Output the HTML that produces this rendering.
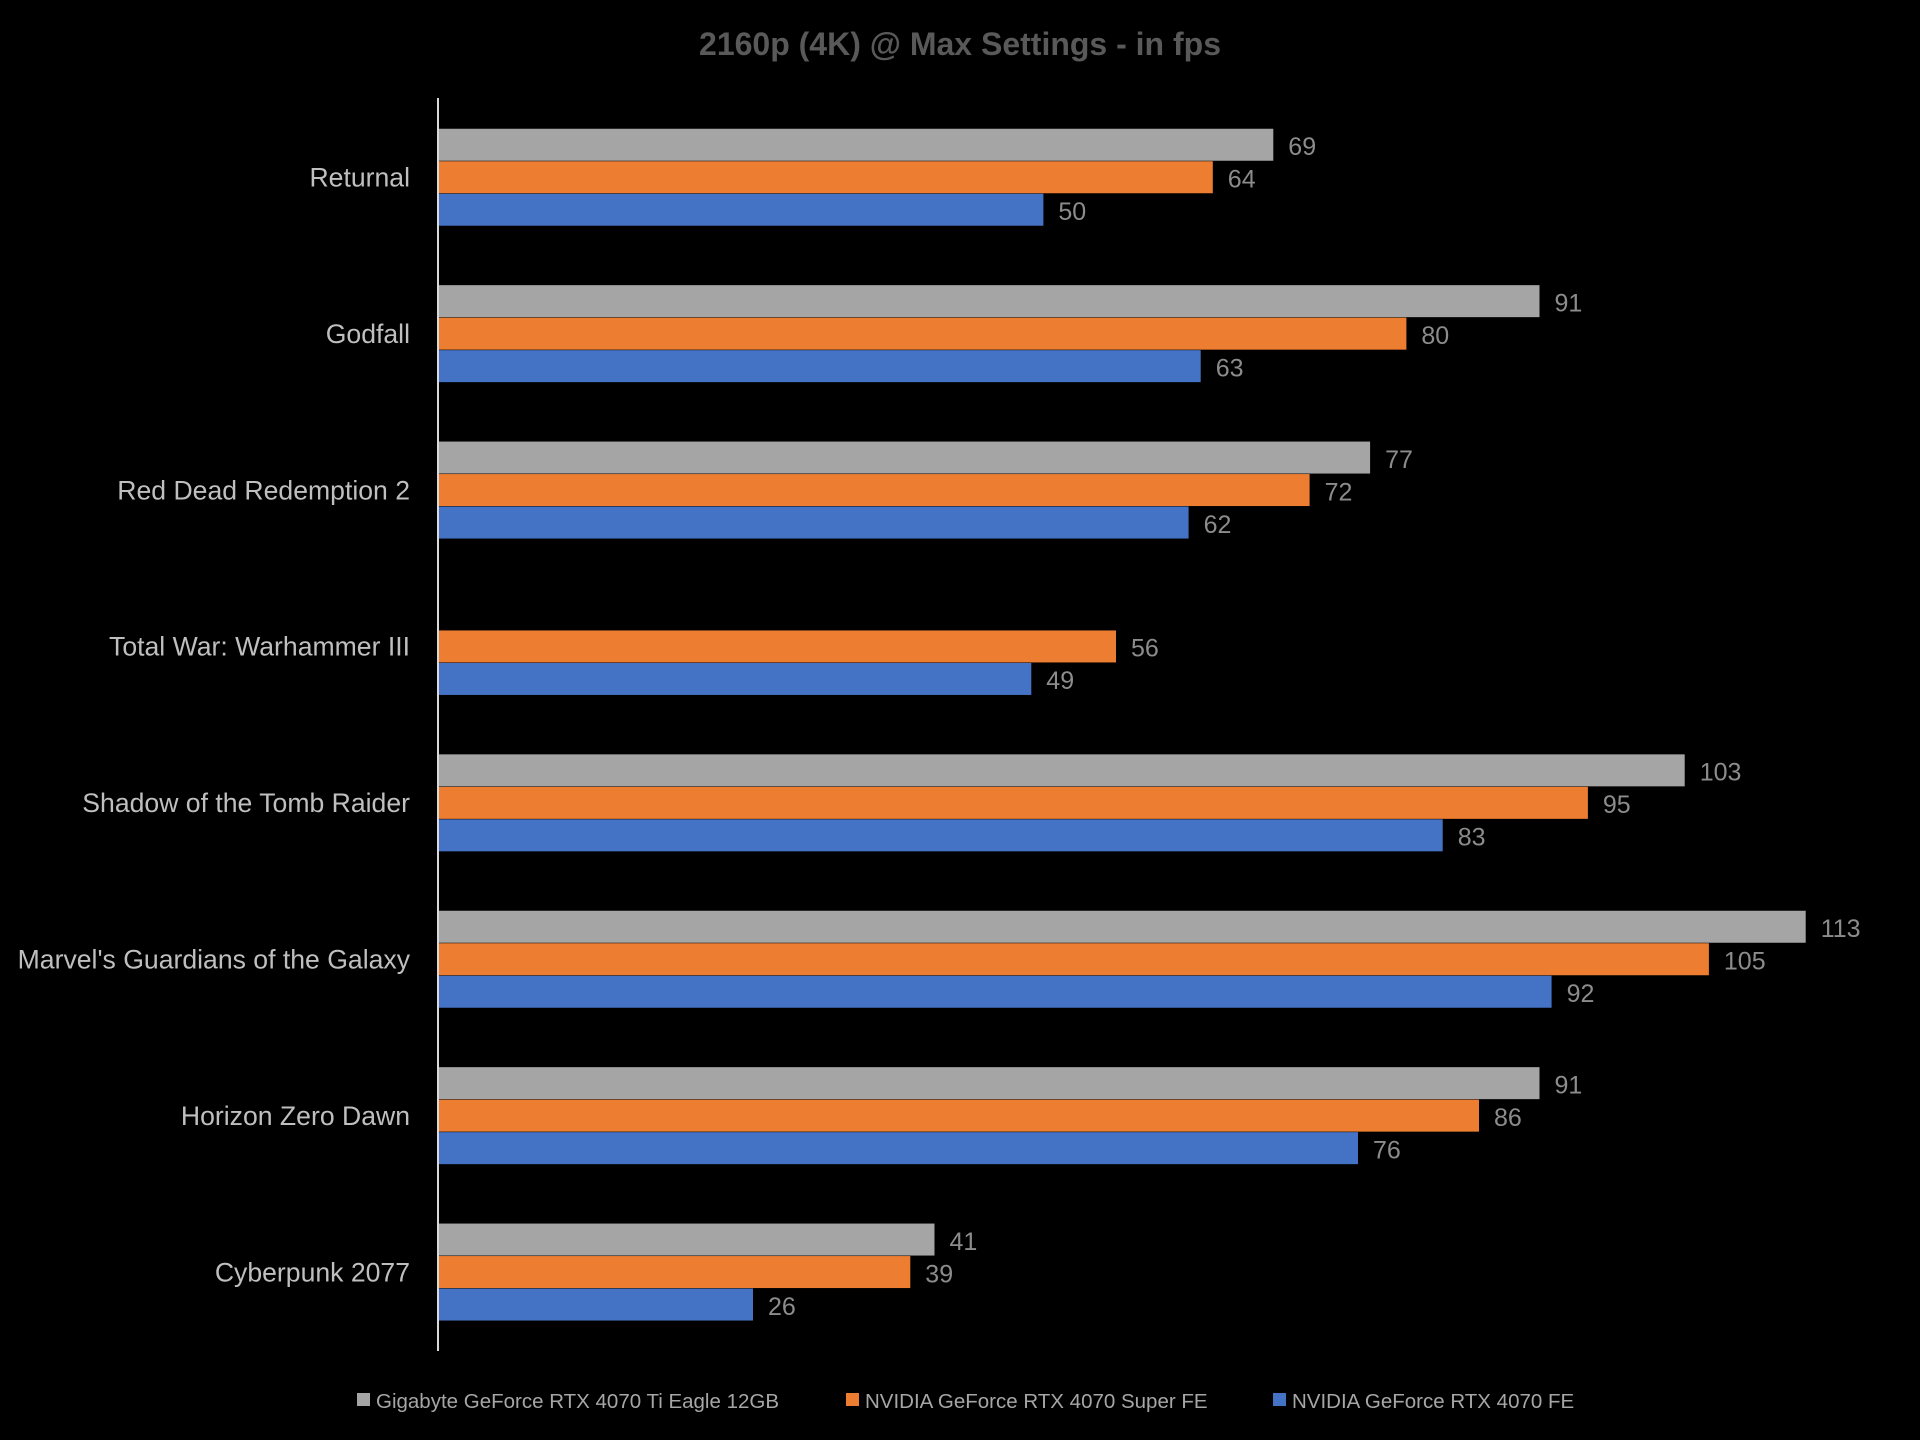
<!DOCTYPE html>
<html><head><meta charset="utf-8">
<style>
html,body{margin:0;padding:0;background:#000;}
svg{display:block;}
text{font-family:"Liberation Sans","DejaVu Sans",sans-serif;}
</style></head>
<body>
<svg id="chart" width="1920" height="1440" viewBox="0 0 1920 1440" xmlns="http://www.w3.org/2000/svg">
<rect width="1920" height="1440" fill="#000"/>
<text x="960" y="55" text-anchor="middle" font-size="32" font-weight="bold" fill="#595959">2160p (4K) @ Max Settings - in fps</text>
<g id="bars"></g>
<line x1="438" y1="98" x2="438" y2="1351" stroke="#d9d9d9" stroke-width="2"/>
<g id="legend"></g>
</svg>
<script>
const categories = ["Returnal","Godfall","Red Dead Redemption 2","Total War: Warhammer III","Shadow of the Tomb Raider","Marvel's Guardians of the Galaxy","Horizon Zero Dawn","Cyberpunk 2077"];
const seriesNames = ["Gigabyte GeForce RTX 4070 Ti Eagle 12GB","NVIDIA GeForce RTX 4070 Super FE","NVIDIA GeForce RTX 4070 FE"];
const tiEagle = [69,91,77,null,103,113,91,41];
const superFE = [64,80,72,56,95,105,86,39];
const fe4070 = [50,63,62,49,83,92,76,26];
const seriesColors = ["#a5a5a5","#ed7d31","#4472c4"];

const NS = "http://www.w3.org/2000/svg";
const x0 = 438.4, pxPerUnit = 12.10;
const xScale = v => x0 + v * pxPerUnit;
const catCenter = i => 177.5 + 156.4 * i;
const barH = 32.5;
const series = [tiEagle, superFE, fe4070];
const bars = document.getElementById("bars");
function mk(tag, attrs, parent){const e=document.createElementNS(NS,tag);for(const k in attrs)e.setAttribute(k,attrs[k]);parent.appendChild(e);return e;}

categories.forEach((c, i) => {
  const cy = catCenter(i);
  const t = mk("text", {x: 410, y: cy + 9, "text-anchor": "end", "font-size": 26.6, fill: "#bfbfbf"}, bars);
  
  
  t.textContent = c;
  series.forEach((s, k) => {
    const v = s[i];
    if (v == null) return;
    const y = cy + (k - 1.5) * barH;
    const r = mk("rect", {x: x0, y: y, width: xScale(v) - x0, height: barH - 0.5, fill: seriesColors[k]}, bars);
    
    
    const l = mk("text", {x: xScale(v) + 15, y: y + barH/2 + 10, "font-size": 25, fill: "#8c8c8c"}, bars);
    
    
    l.textContent = v;
  });
});

const legend = document.getElementById("legend");
const legX = [357, 846, 1273];
seriesNames.forEach((n, k) => {
  const g = mk("g", {}, legend);
  
  
  mk("rect", {x: legX[k], y: 1393, width: 13, height: 13, fill: seriesColors[k]}, g);
  const t = mk("text", {x: legX[k] + 19, y: 1408, "font-size": 20.5, fill: "#a6a6a6"}, g);
  t.textContent = n;
});
</script>
</body></html>
